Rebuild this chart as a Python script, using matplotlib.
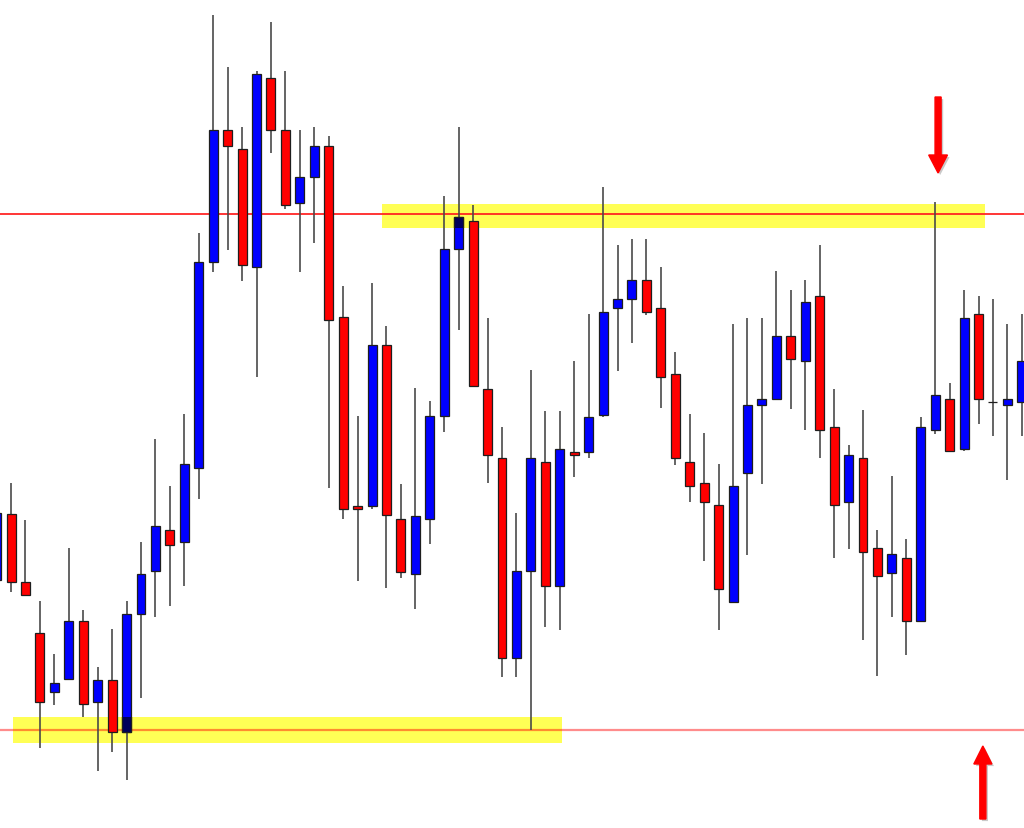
import numpy as np
import matplotlib
matplotlib.use("Agg")
import matplotlib.pyplot as plt
import matplotlib.patches as mpatches
import matplotlib.patheffects as pe

# OHLC, in chart units (0 = top of chart, grows downwards)
opens = [581, 515, 583, 634, 693, 680, 622, 703, 681, 733,
         615, 572, 531, 543, 469, 263, 131, 150, 268, 79,
         131, 204, 178, 147, 318, 507, 507, 346, 520, 575,
         520, 417, 250, 222, 390, 459, 659, 572, 463, 587,
         453, 453, 416, 309, 300, 281, 309, 375, 463, 484,
         506, 603, 474, 406, 400, 337, 362, 297, 428, 503,
         459, 549, 574, 559, 622, 431, 400, 450, 315, 402.5,
         406, 403]
highs = [508, 484, 521, 602, 655, 549, 611, 668, 630, 602,
         543, 440, 487, 415, 234, 16, 68, 128, 72, 23,
         72, 131, 128, 137, 287, 417, 284, 327, 485, 389,
         402, 197, 128, 206, 319, 428, 514, 371, 412, 412,
         362, 315, 188, 246, 240, 240, 268, 353, 415, 434,
         465, 325, 319, 319, 272, 291, 281, 246, 390, 446,
         411, 531, 477, 540, 418, 203, 384, 291, 297, 300,
         325, 315]
lows = [590, 593, 596, 749, 706, 680, 718, 772, 753, 781,
        699, 618, 607, 587, 500, 273, 251, 282, 378, 154,
        210, 273, 244, 489, 520, 582, 510, 589, 579, 610,
        545, 433, 331, 387, 484, 678, 678, 731, 628, 631,
        478, 459, 418, 372, 344, 316, 409, 466, 503, 562,
        631, 603, 556, 485, 400, 410, 431, 459, 559, 550,
        641, 677, 618, 656, 622, 435, 452, 452, 425, 437,
        481, 437]
closes = [514, 583, 596, 703, 684, 622, 705, 681, 733, 615,
          575, 527, 546, 465, 263, 131, 147, 266, 75, 131,
          206, 178, 147, 321, 510, 510, 346, 516, 573, 517,
          417, 250, 218, 387, 456, 659, 572, 459, 587, 450,
          456, 418, 313, 300, 281, 313, 378, 459, 487, 503,
          590, 487, 406, 400, 337, 360, 303, 431, 506, 456,
          553, 577, 555, 622, 428, 396, 452, 319, 400, 402.5,
          400, 362]

resistance = 215
support = 731
# highlighted zones: (first candle, last candle, top, bottom)
upper_zone = (26.69, 68.45, 205, 229)
lower_zone = (1.14, 39.15, 718, 744)

x = np.arange(len(opens))
o = np.array(opens, dtype=float)
c = np.array(closes, dtype=float)
bull = c < o
body_bottom = np.minimum(o, c)
body_h = np.abs(o - c)
colors = np.where(bull, "#0000ff", "#ff0000")

fig = plt.figure(figsize=(10.24, 8.29), dpi=100)
ax = fig.add_axes([0, 0, 1, 1])
ax.set_xlim(0.235, 71.15)
ax.set_ylim(829, 0)
ax.axis("off")

# yellow zones
bands = []
for x0, x1, top, bot in (upper_zone, lower_zone):
    r = mpatches.Rectangle((x0, top), x1 - x0, bot - top,
                           facecolor="#ffff55", edgecolor="none", zorder=1)
    ax.add_patch(r)
    bands.append(r)

ax.axhline(resistance, color="#ff2020", lw=1.4, alpha=0.9, zorder=2)
ax.axhline(support, color="#ff0000", lw=1.6, alpha=0.45, zorder=2)

# wicks + bodies
ax.vlines(x, highs, lows, color="#4a4a4a", lw=1.2, zorder=3)
ax.bar(x, body_h, bottom=body_bottom, width=0.62, color=colors,
       edgecolor="#1e1e1e", linewidth=0.9, zorder=4)

# blue bodies look dark navy where they sit on the yellow zones
for band in bands:
    bars = ax.bar(x[bull], body_h[bull], bottom=body_bottom[bull], width=0.62,
                  color="#00005a", edgecolor="#1e1e1e", linewidth=0.9, zorder=5)
    for b in bars:
        b.set_clip_path(band)

# arrows
shadow = [pe.withSimplePatchShadow(offset=(1.5, -1.5), shadow_rgbFace="0.4", alpha=0.35)]
ax.arrow(65.2, 98, 0, 76, width=0.42, head_width=1.3, head_length=18,
         length_includes_head=True, color="#ff0000", zorder=6, path_effects=shadow)
ax.arrow(68.3, 820, 0, -73, width=0.42, head_width=1.25, head_length=18,
         length_includes_head=True, color="#ff0000", zorder=6, path_effects=shadow)

fig.savefig("out.png", dpi=100)
